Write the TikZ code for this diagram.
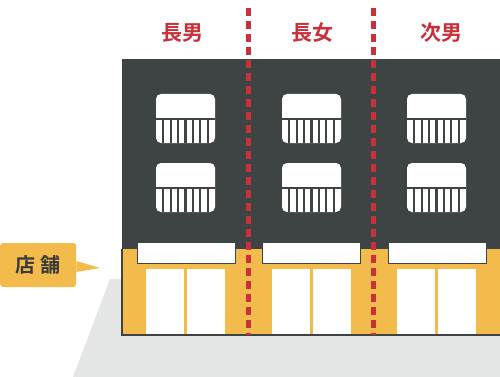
\documentclass[tikz,border=0pt]{standalone}
\usepackage{fontspec}
\newfontfamily\cjk[BoldFont={Noto Sans CJK JP Bold}]{Noto Sans CJK JP}
\definecolor{wall}{HTML}{3E4343}
\definecolor{shopfront}{HTML}{F3BA4C}
\definecolor{dashred}{HTML}{C9303A}
\definecolor{ground}{HTML}{E4E5E5}
\definecolor{ink}{HTML}{3A3A3A}

\tikzset{
  owner/.style={text=dashred, font=\cjk\bfseries\fontsize{21}{21}\selectfont},
  divider/.style={draw=dashred, line width=5pt, dash pattern=on 8pt off 5pt},
  signboard/.style={fill=white, draw=wall, line width=1pt},
  tag/.style={fill=shopfront, rounded corners=3pt, inner sep=0pt,
    minimum width=76pt, minimum height=44pt, text=ink,
    font=\cjk\bfseries\fontsize{20}{20}\selectfont},
}

\begin{document}
\begin{tikzpicture}[x=1pt, y=-1pt]
  \useasboundingbox (0,0) rectangle (500,377);

  % street and building body
  \fill[ground] (110,279) -- (500,279) -- (500,377) -- (73,377) -- cycle;
  \fill[wall] (122,59) rectangle (500,335);
  \fill[shopfront] (122,249) rectangle (500,335);
  \draw[wall, line width=1.5pt] (122,249) -- (122,335) -- (500,335);

  % shop signs and glass doors
  \foreach \sx/\dx in {137/146, 262/272, 388/397} {
    \draw[signboard] (\sx,242) rectangle ++(98,21);
    \fill[white] (\dx,269) rectangle ++(38,65);
    \fill[white] (\dx+41,269) rectangle ++(38,65);
  }

  % windows with railings
  \foreach \wx in {156, 282, 407} {
    \foreach \wy in {94, 163} {
      \fill[white, rounded corners=5pt] (\wx,\wy) rectangle ++(59,49);
      \draw[wall, line width=2pt] (\wx,\wy+25) -- ++(59,0);
      \foreach \i in {1,...,7}
        \draw[wall, line width=2.2pt] (\wx+\i*7.375,\wy+25) -- ++(0,24);
    }
  }

  % owners of each unit
  \node[owner] (eldson) at (182,33) {長男};
  \node[owner] (elddaughter) at (312,33) {長女};
  \node[owner] (secondson) at (441,33) {次男};

  \coordinate (cutA) at (248,8);
  \coordinate (cutB) at (373,8);
  \draw[divider] (cutA) -- (cutA |- 0,335);
  \draw[divider] (cutB) -- (cutB |- 0,335);

  % callout for the shop floor
  \node[tag, anchor=west] (shop) at (0,265) {店\hspace{5pt}舗};
  \coordinate (tip) at (100,268);
  \fill[shopfront] ([yshift=4pt]shop.east) -- (tip) -- ([yshift=-7pt]shop.east) -- cycle;
\end{tikzpicture}
\end{document}
